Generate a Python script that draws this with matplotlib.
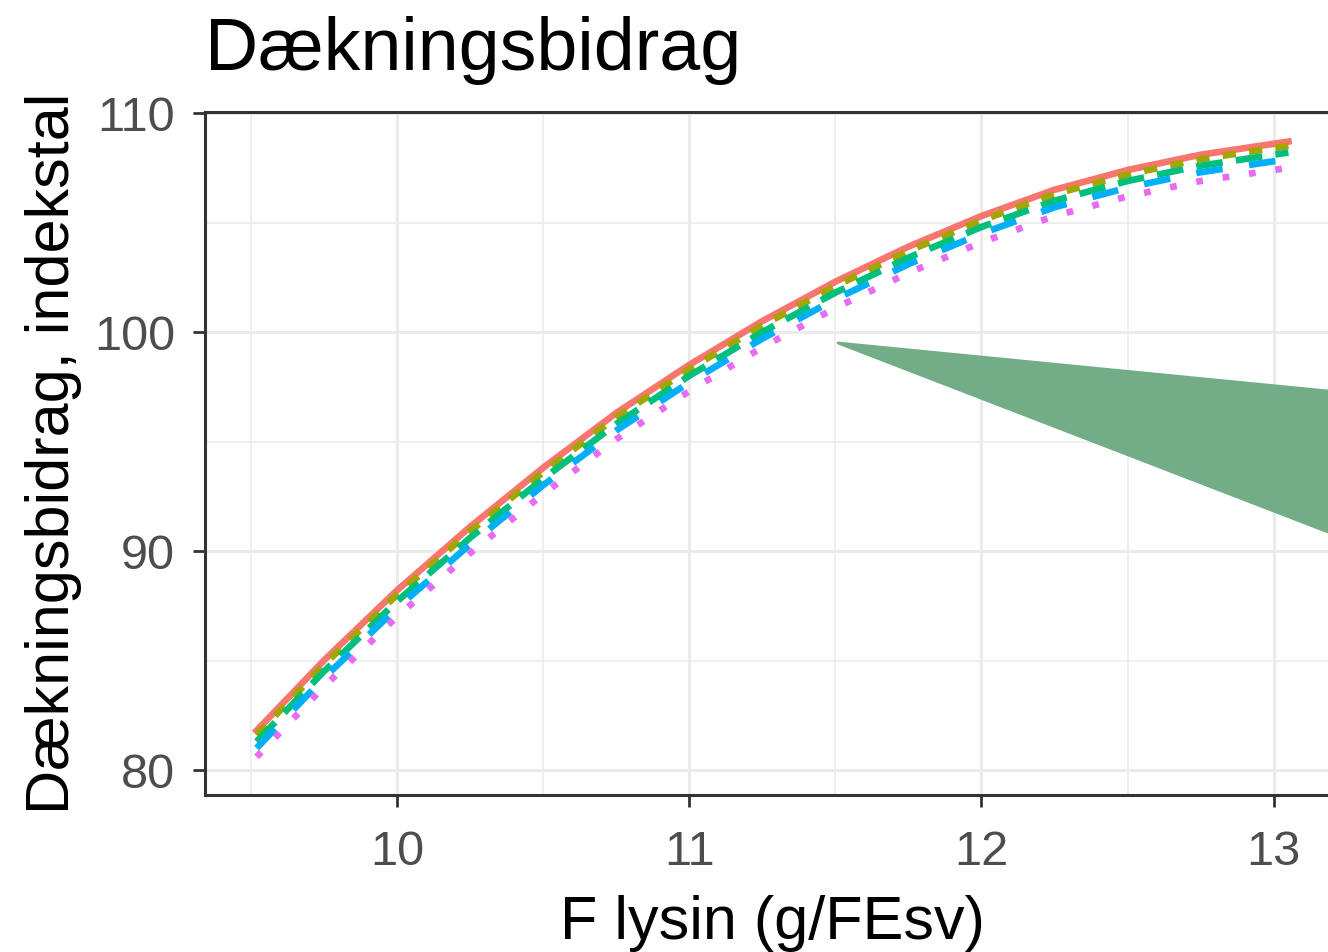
import matplotlib
matplotlib.use("Agg")
import matplotlib.pyplot as plt
from matplotlib.patches import Polygon

plt.rcParams['font.family'] = ['Liberation Sans', 'DejaVu Sans']

# F lysin (g/FEsv)
lysin = [9.52, 9.75, 10.0, 10.25, 10.5, 10.75, 11.0, 11.25, 11.5, 11.75, 12.0, 12.25, 12.5, 12.75, 13.05]

# Dækningsbidrag, indekstal - one list per scenario
db_1 = [81.8, 85.0, 88.2, 91.1, 93.8, 96.3, 98.5, 100.5, 102.3, 103.9, 105.3, 106.5, 107.4, 108.1, 108.7]
db_2 = [81.6, 84.8, 88.0, 90.9, 93.6, 96.1, 98.3, 100.3, 102.1, 103.7, 105.1, 106.3, 107.2, 107.9, 108.5]
db_3 = [81.3, 84.5, 87.7, 90.6, 93.3, 95.8, 98.0, 100.0, 101.8, 103.4, 104.8, 106.0, 106.9, 107.6, 108.2]
db_4 = [81.0, 84.2, 87.4, 90.3, 93.0, 95.5, 97.7, 99.7, 101.5, 103.1, 104.5, 105.7, 106.6, 107.3, 107.9]
db_5 = [80.6, 83.8, 87.0, 89.9, 92.6, 95.1, 97.3, 99.3, 101.1, 102.7, 104.1, 105.3, 106.2, 106.9, 107.5]

series = [db_1, db_2, db_3, db_4, db_5]
colors = ['#F8766D', '#A3A500', '#00BF7D', '#00B0F6', '#E76BF3']
styles = ['-', (0, (2, 2)), (0, (4, 2)), (0, (4, 4)), (0, (1, 3))]

x_ticks = [10, 11, 12, 13]
x_minor = [9.5, 10.5, 11.5, 12.5]
y_ticks = [80, 90, 100, 110]
y_minor = [85, 95, 105]


def main():
    fig = plt.figure(figsize=(13.28, 9.52), dpi=100)
    ax = fig.add_axes([205 / 1328, 157 / 952, 1135 / 1328, 683 / 952])

    for vals, col, ls in zip(series, colors, styles):
        ax.plot(lysin, vals, color=col, linestyle=ls, linewidth=4.8,
                solid_joinstyle='round')

    ax.set_xlim(9.3435, 13.2265)
    ax.set_ylim(78.86, 110.05)
    ax.set_xticks(x_ticks)
    ax.set_xticks(x_minor, minor=True)
    ax.set_yticks(y_ticks)
    ax.set_yticks(y_minor, minor=True)
    ax.grid(which='major', color='#EBEBEB', linewidth=2.2)
    ax.grid(which='minor', color='#EBEBEB', linewidth=1.1)
    ax.set_axisbelow(True)
    ax.tick_params(which='major', length=8.5, width=2, color='#333333',
                   labelsize=35, labelcolor='#4D4D4D')
    ax.tick_params(axis='x', which='major', pad=17)
    ax.tick_params(axis='y', which='major', pad=13)
    ax.tick_params(which='minor', length=0)
    for sp in ax.spines.values():
        sp.set_color('#333333')
        sp.set_linewidth(2.2)

    ax.set_xlabel('F lysin (g/FEsv)', fontsize=44, labelpad=14)
    ax.set_ylabel('Dækningsbidrag, indekstal', fontsize=44, labelpad=9)
    fig.text(205 / 1328, 1 - 70 / 952, 'Dækningsbidrag', fontsize=53,
             ha='left', va='baseline')

    # green callout shape over the plot
    fig.add_artist(Polygon([[838 / 1328, 1 - 343 / 952], [1.0, 1 - 391 / 952],
                            [1.0, 1 - 532 / 952]], closed=True,
                           transform=fig.transFigure, facecolor='#72AD88',
                           edgecolor='#72AD88', linewidth=2, joinstyle='round'))

    fig.savefig('out.png', dpi=100)


if __name__ == "__main__":
    main()
